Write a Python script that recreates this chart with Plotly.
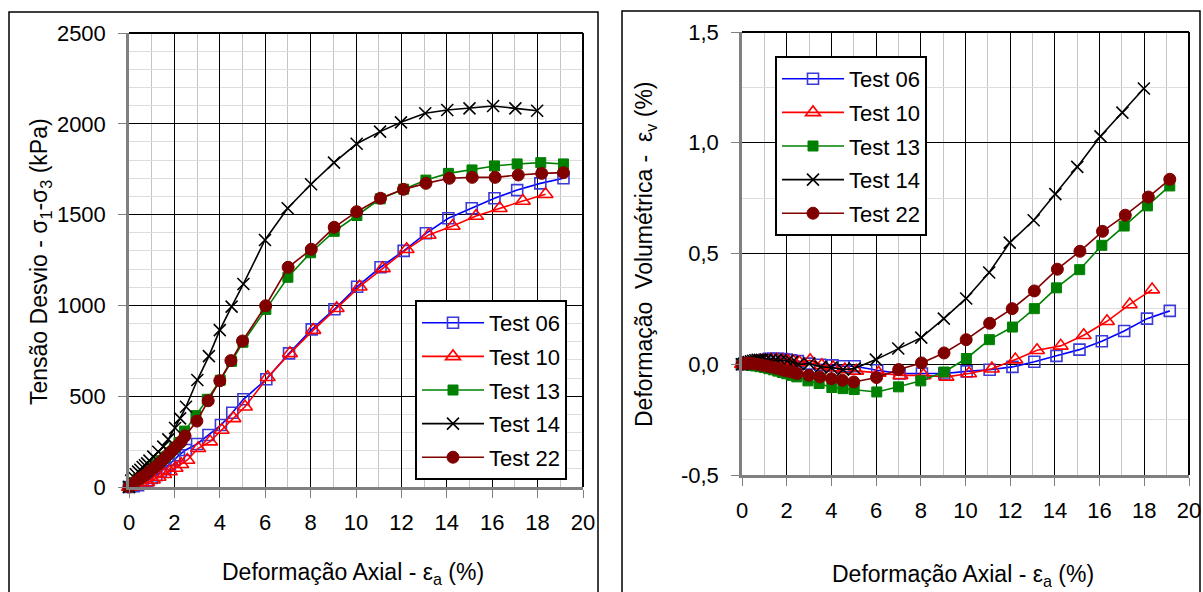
import plotly.graph_objects as go

# ---- data -------------------------------------------------------------
tests = ["Test 06", "Test 10", "Test 13", "Test 14", "Test 22"]

# axial strain (%)
strain_06 = [0, 0.2, 0.4, 0.6, 0.8, 1.0, 1.2, 1.4, 1.6, 1.8, 2.0, 2.2, 2.5, 3.0, 3.5, 4.05,
             4.55, 5.04, 6.05, 7.05, 8.05, 9.05, 10.05, 11.08, 12.1, 13.08, 14.07, 15.1,
             16.1, 17.1, 18.12, 19.14]
strain_10 = [0, 0.05, 0.3, 0.55, 0.8, 1.05, 1.3, 1.55, 1.8, 2.05, 2.3, 2.57, 3.05, 3.57,
             4.08, 4.6, 5.11, 6.11, 7.09, 8.12, 9.15, 10.16, 11.18, 12.23, 13.2, 14.26,
             15.29, 16.33, 17.35, 18.35]
strain_13 = [0, 0.2, 0.4, 0.6, 0.8, 1.0, 1.2, 1.4, 1.6, 1.8, 2.0, 2.2, 2.45, 2.95, 3.45,
             4.02, 4.52, 5.02, 6.03, 7.0, 8.0, 9.04, 10.04, 11.07, 12.1, 13.08, 14.07,
             15.11, 16.1, 17.1, 18.14, 19.14]
strain_14 = [0, 0.1, 0.2, 0.3, 0.4, 0.5, 0.6, 0.7, 0.8, 0.9, 1.07, 1.29, 1.51, 1.73, 2.03,
             2.25, 2.51, 3.01, 3.52, 4.0, 4.52, 5.04, 5.99, 6.99, 8.02, 9.03, 10.03, 11.06,
             11.98, 13.05, 14.02, 15.0, 16.04, 17.02, 17.98]
strain_22 = [0, 0.1, 0.3, 0.5, 0.7, 0.9, 1.1, 1.3, 1.5, 1.7, 1.9, 2.1, 2.3, 2.47, 2.99,
             3.49, 4.0, 4.49, 5.0, 6.02, 7.01, 8.03, 9.04, 10.03, 11.08, 12.09, 13.08,
             14.11, 15.12, 16.13, 17.15, 18.18, 19.14]

# deviator stress (kPa)
stress_06 = [0, 5, 10, 20, 35, 50, 65, 85, 105, 125, 150, 175, 204, 237, 286, 341, 409,
             483, 593, 736, 868, 979, 1103, 1210, 1300, 1397, 1480, 1535, 1590, 1635,
             1672, 1700]
stress_10 = [0, 0, 5, 12, 25, 40, 55, 70, 85, 105, 125, 149, 213, 250, 314, 378, 442, 604,
             736, 864, 984, 1103, 1204, 1309, 1388, 1437, 1492, 1535, 1575, 1612]
stress_13 = [0, 25, 45, 65, 85, 105, 125, 145, 165, 190, 215, 245, 308, 393, 483, 588, 692,
             797, 978, 1155, 1290, 1408, 1495, 1587, 1640, 1690, 1727, 1746, 1768, 1779,
             1786, 1779]
stress_14 = [0, 35, 55, 70, 85, 95, 110, 120, 130, 145, 167, 194, 222, 262, 325, 378, 442,
             589, 721, 864, 993, 1118, 1360, 1535, 1667, 1786, 1890, 1957, 2008, 2058,
             2076, 2085, 2098, 2085, 2072]
stress_22 = [0, 10, 30, 50, 65, 85, 105, 125, 150, 175, 200, 225, 250, 281, 363, 475, 585,
             696, 804, 998, 1210, 1309, 1430, 1516, 1590, 1639, 1672, 1700, 1705, 1705,
             1718, 1727, 1731]

# volumetric strain (%)
vol_06 = [0, 0.003, 0.007, 0.01, 0.015, 0.02, 0.025, 0.025, 0.025, 0.023, 0.021, 0.018,
          0.014, 0.003, -0.002, -0.005, -0.009, -0.009, -0.027, -0.042, -0.042, -0.042,
          -0.032, -0.025, -0.012, 0.011, 0.038, 0.066, 0.104, 0.150, 0.206, 0.241]
vol_10 = [0, 0.002, 0.005, 0.01, 0.015, 0.018, 0.02, 0.02, 0.018, 0.015, 0.012, 0.008,
          0.018, -0.005, -0.015, -0.024, -0.03, -0.039, -0.05, -0.05, -0.057, -0.042,
          -0.02, 0.021, 0.063, 0.083, 0.131, 0.194, 0.27, 0.337]
vol_13 = [0, -0.002, -0.005, -0.008, -0.011, -0.015, -0.02, -0.025, -0.031, -0.037,
          -0.043, -0.05, -0.057, -0.075, -0.087, -0.105, -0.11, -0.114, -0.125, -0.102,
          -0.075, -0.035, 0.026, 0.111, 0.168, 0.251, 0.345, 0.427, 0.537, 0.624, 0.715,
          0.805]
vol_14 = [0, 0.003, 0.006, 0.01, 0.013, 0.016, 0.018, 0.02, 0.02, 0.02, 0.02, 0.02, 0.02,
          0.018, 0.015, 0.01, 0.0, 0.003, -0.012, -0.015, -0.024, -0.019, 0.021, 0.071,
          0.120, 0.206, 0.297, 0.414, 0.549, 0.650, 0.768, 0.891, 1.029, 1.136, 1.245]
vol_22 = [0, 0.003, 0.005, 0.003, 0.0, -0.004, -0.008, -0.012, -0.017, -0.022, -0.028,
          -0.032, -0.036, -0.042, -0.05, -0.057, -0.065, -0.072, -0.08, -0.06, -0.024,
          0.006, 0.051, 0.111, 0.185, 0.251, 0.331, 0.429, 0.51, 0.6, 0.673, 0.755, 0.835]

strains = [strain_06, strain_10, strain_13, strain_14, strain_22]
stresses = [stress_06, stress_10, stress_13, stress_14, stress_22]
volumes = [vol_06, vol_10, vol_13, vol_14, vol_22]

vol_tickvals = [-0.5, 0.0, 0.5, 1.0, 1.5]
vol_ticktext = ["-0,5", "0,0", "0,5", "1,0", "1,5"]

# ---- styles -------------------------------------------------------------
line_colors = ["#0000FF", "#FF0000", "#008000", "#000000", "#800000"]
markers = [
    dict(symbol="square-open", size=11, color="#3A3AD8", line=dict(width=1.6, color="#3A3AD8")),
    dict(symbol="triangle-up-open", size=13, color="#FF0000", line=dict(width=1.6, color="#FF0000")),
    dict(symbol="square", size=10, color="#008000", line=dict(width=1, color="#008000")),
    dict(symbol="x-thin-open", size=12, color="#000000", line=dict(width=1.6, color="#000000")),
    dict(symbol="circle", size=12, color="#800000", line=dict(width=1, color="#800000")),
]

FONT = "Liberation Sans, Arial, sans-serif"
W, H = 1203, 592

fig = go.Figure()
for i, name in enumerate(tests):
    common = dict(mode="lines+markers", name=name, legendgroup=name, cliponaxis=False,
                  line=dict(color=line_colors[i], width=1.6), marker=markers[i])
    fig.add_trace(go.Scatter(x=strains[i], y=stresses[i], xaxis="x", yaxis="y",
                             legend="legend", **common))
    fig.add_trace(go.Scatter(x=strains[i], y=volumes[i], xaxis="x2", yaxis="y2",
                             legend="legend2", **common))

# plot-area pixel boxes: (left, right, top, bottom)
L_BOX = (129, 583, 33, 487)
R_BOX = (742, 1189, 32, 475)


def xdom(b):
    return [b[0] / W, b[1] / W]


def ydom(b):
    return [1 - b[3] / H, 1 - b[2] / H]


axis_common = dict(
    showline=True, linecolor="#808080", linewidth=2.5, automargin=False,
    ticks="outside", ticklen=8, tickcolor="#808080", tickwidth=1,
    showgrid=True, gridcolor="#000000", gridwidth=1, zeroline=False,
    tickfont=dict(family=FONT, size=22, color="#000000"),
)

xaxis_common = dict(axis_common, range=[0, 20], dtick=2, tick0=0,
                    minor=dict(dtick=1, showgrid=True, gridcolor="#C4C4C4", gridwidth=1, ticks=""),
                    ticklabelstandoff=6)

legend_common = dict(xanchor="left", yanchor="top", bgcolor="white",
                     bordercolor="#000000", borderwidth=2,
                     font=dict(family=FONT, size=22), itemwidth=62, tracegroupgap=2)

fig.update_layout(
    width=W, height=H, autosize=False,
    margin=dict(l=0, r=0, t=0, b=0, pad=0, autoexpand=False),
    paper_bgcolor="white", plot_bgcolor="white",
    font=dict(family=FONT, size=22, color="#000000"),
    xaxis=dict(xaxis_common, domain=xdom(L_BOX), anchor="y"),
    yaxis=dict(axis_common, domain=ydom(L_BOX), anchor="x", range=[0, 2500], dtick=500,
               minor=dict(dtick=100, showgrid=True, gridcolor="#DDDDDD", gridwidth=1, ticks=""),
               ticklabelstandoff=8),
    xaxis2=dict(xaxis_common, domain=xdom(R_BOX), anchor="y2"),
    yaxis2=dict(axis_common, domain=ydom(R_BOX), anchor="x2", range=[-0.5, 1.5],
                tickvals=vol_tickvals, ticktext=vol_ticktext,
                minor=dict(dtick=0.25, tick0=0, showgrid=True, gridcolor="#DDDDDD", gridwidth=1, ticks=""),
                ticklabelstandoff=8),
    legend=dict(legend_common, x=415 / W, y=1 - 300 / H),
    legend2=dict(legend_common, x=775 / W, y=1 - 56 / H),
    showlegend=True,
)

shapes = []
# darker top and right edges of each plot area
for xa, ya in (("x", "y"), ("x2", "y2")):
    shapes.append(dict(type="line", xref=f"{xa} domain", yref=f"{ya} domain",
                       x0=0, x1=1, y0=1, y1=1, line=dict(color="#000000", width=2)))
    shapes.append(dict(type="line", xref=f"{xa} domain", yref=f"{ya} domain",
                       x0=1, x1=1, y0=0, y1=1, line=dict(color="#000000", width=2)))
# outer frames around each panel
for x0, x1, y0 in ((9, 598, 12), (622, 1200, 11)):
    shapes.append(dict(type="rect", xref="paper", yref="paper",
                       x0=x0 / W, x1=x1 / W, y0=-0.05, y1=1 - y0 / H,
                       line=dict(color="#000000", width=1.5)))
fig.update_layout(shapes=shapes)

TITLE_FONT = dict(family=FONT, size=23)
annotations = [
    dict(text="Deformação Axial - ε<sub>a</sub> (%)", x=353 / W, y=1 - 573 / H,
         xref="paper", yref="paper", showarrow=False, xanchor="center", yanchor="middle",
         font=TITLE_FONT),
    dict(text="Deformação Axial - ε<sub>a</sub> (%)", x=963 / W, y=1 - 575 / H,
         xref="paper", yref="paper", showarrow=False, xanchor="center", yanchor="middle",
         font=TITLE_FONT),
    dict(text="Tensão Desvio - σ<sub>1</sub>-σ<sub>3</sub> (kPa)", x=40 / W, y=1 - 262 / H,
         xref="paper", yref="paper", showarrow=False, xanchor="center", yanchor="middle",
         textangle=-90, font=TITLE_FONT),
    dict(text="Deformação\u00a0 Volumétrica -\u00a0 ε<sub>v</sub> (%)", x=645 / W, y=1 - 254 / H,
         xref="paper", yref="paper", showarrow=False, xanchor="center", yanchor="middle",
         textangle=-90, font=TITLE_FONT),
]
fig.update_layout(annotations=annotations)

fig.write_html("out.html", config={"responsive": False})
